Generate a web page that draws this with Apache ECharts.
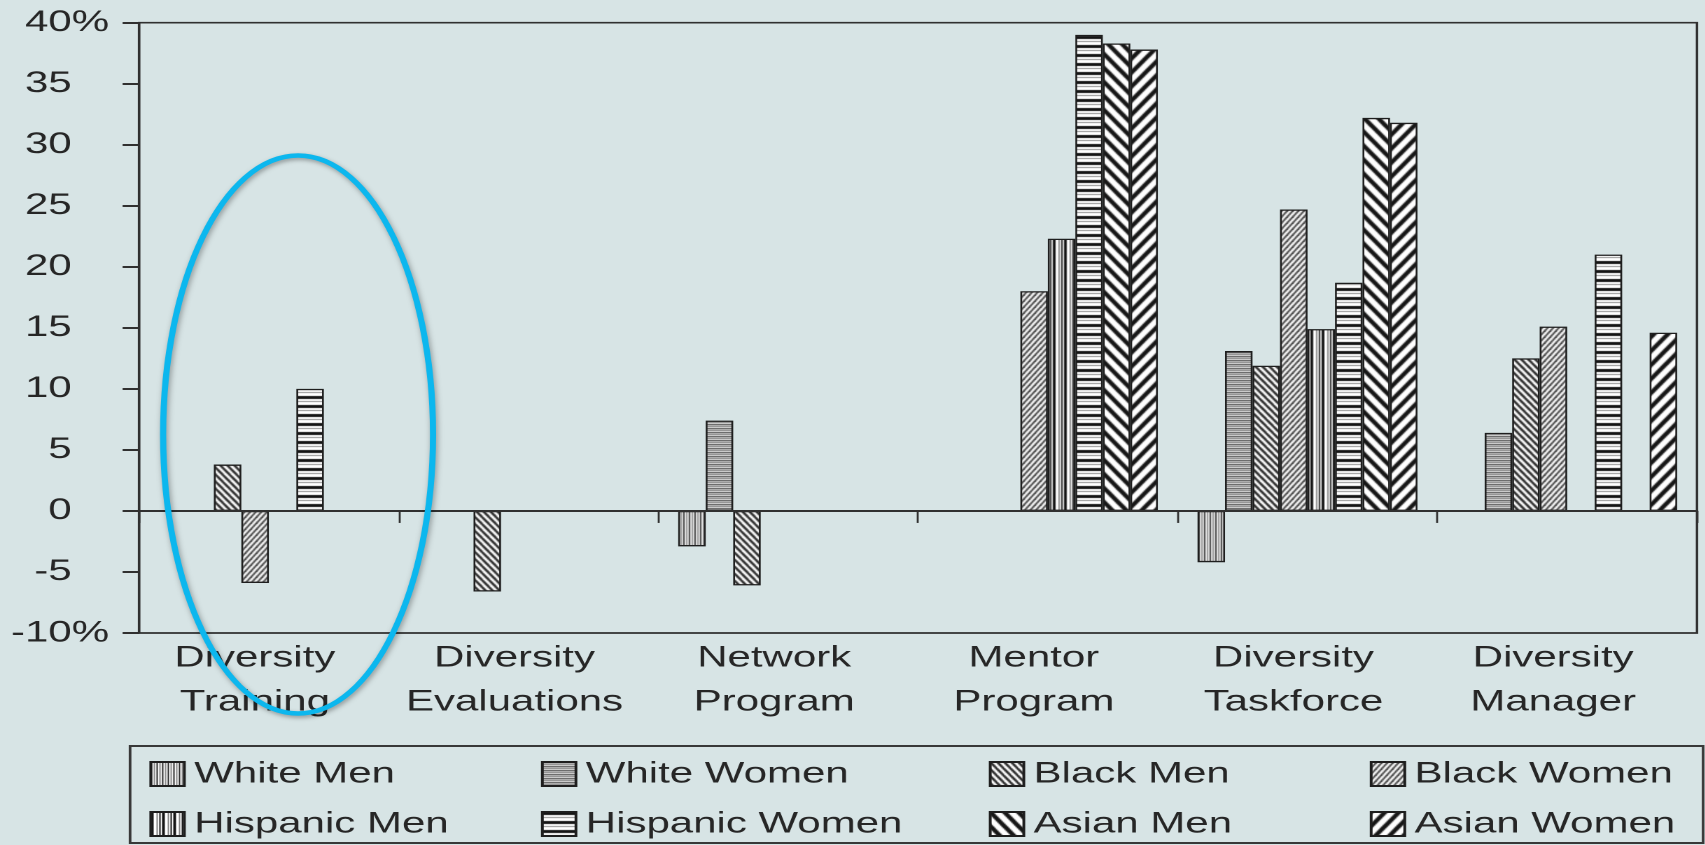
<!DOCTYPE html>
<html>
<head>
<meta charset="utf-8">
<title>Diversity programs</title>
<script src="https://cdn.jsdelivr.net/npm/echarts@6/dist/echarts.min.js"></script>
<style>
  html, body { margin: 0; padding: 0; background: #d7e4e5; overflow: hidden; }
  #stage { width: 1705px; height: 845px; position: relative; overflow: hidden; }
  /* the chart is laid out narrow and widened 1.4x, which gives the broad lettering */
  #chart { width: 1218px; height: 845px; transform: scaleX(1.4); transform-origin: 0 0; }
</style>
</head>
<body>
<div id="stage"><div id="chart"></div></div>
<script>
// ---- data ----
const categories = [
  'Diversity\nTraining', 'Diversity\nEvaluations', 'Network\nProgram',
  'Mentor\nProgram', 'Diversity\nTaskforce', 'Diversity\nManager'
];
const whiteMen       = [null, null, -2.9, null, -4.2, null];
const whiteWomen     = [null, null, 7.4, null, 13.1, 6.4];
const blackMen       = [3.8, -6.6, -6.1, null, 11.9, 12.5];
const blackWomen     = [-5.9, null, null, 18.0, 24.7, 15.1];
const hispanicMen    = [null, null, null, 22.3, 14.9, null];
const hispanicWomen  = [10.0, null, null, 39.0, 18.7, 21.0];
const asianMen       = [null, null, null, 38.3, 32.2, null];
const asianWomen     = [null, null, null, 37.8, 31.8, 14.6];
const yTickLabels = ['-10%', '-5', '0', '5', '10', '15', '20', '25', '30', '35', '40%'];

// ---- hatch fills ----
function tile(w, h, paint) {
  const c = document.createElement('canvas');
  c.width = w; c.height = h;
  const g = c.getContext('2d');
  g.fillStyle = '#ffffff';
  g.fillRect(0, 0, w, h);
  paint(g, w, h);
  return { image: c, repeat: 'repeat' };
}
function columns(spec) {
  const w = spec.reduce((s, p) => s + p[1], 0);
  return tile(w, 2, g => {
    let x = 0;
    spec.forEach(([col, n]) => { g.fillStyle = col; g.fillRect(x, 0, n, 2); x += n; });
  });
}
function bands(spec) {
  const h = spec.reduce((s, p) => s + p[1], 0);
  return tile(2, h, g => {
    let y = 0;
    spec.forEach(([col, n]) => { g.fillStyle = col; g.fillRect(0, y, 2, n); y += n; });
  });
}
function diagonal(w, h, lw, color, falling) {
  return tile(w, h, g => {
    g.strokeStyle = color;
    g.lineWidth = lw;
    for (let k = -1; k <= 1; k++) {
      g.beginPath();
      if (falling) { g.moveTo(k * w - w, -h); g.lineTo(k * w + 2 * w, 2 * h); }
      else { g.moveTo(k * w - w, 2 * h); g.lineTo(k * w + 2 * w, -h); }
      g.stroke();
    }
  });
}

const fills = {
  whiteMen: columns([['#2a2a2a', 1], ['#ffffff', 1], ['#8a8a8a', 1], ['#f4f4f4', 1]]),
  whiteWomen: bands([['#4a4a4a', 1], ['#c4c4c4', 1], ['#808080', 1], ['#ececec', 1]]),
  blackMen: diagonal(5, 7, 1.9, '#262626', true),
  blackWomen: diagonal(4, 6, 1.4, '#333333', false),
  hispanicMen: columns([['#151515', 2], ['#ffffff', 2], ['#808080', 1], ['#ffffff', 1], ['#151515', 1], ['#ffffff', 1]]),
  hispanicWomen: bands([['#151515', 3], ['#ffffff', 2], ['#8c8c8c', 1], ['#ffffff', 3]]),
  asianMen: diagonal(10, 14, 3.6, '#161616', true),
  asianWomen: diagonal(10, 14, 3.6, '#161616', false)
};

const FONT = '"Liberation Sans", Arial, Helvetica, sans-serif';
const INK = '#262626';
const BAR_W = 19.64;

function barSeries(name, data, fill) {
  return {
    type: 'bar',
    name: name,
    data: data,
    xAxisIndex: 0,
    barWidth: BAR_W,
    barGap: '0%',
    itemStyle: { color: fill, borderColor: '#1e1e1e', borderWidth: 1.3 },
    emphasis: { disabled: true },
    z: 3
  };
}

// one legend entry per block so the two rows line up in fixed columns
const legendText = { color: INK, fontSize: 30, fontFamily: FONT, padding: [0, 0, 0, 2] };
function legendEntry(name, left, top) {
  return {
    data: [name],
    orient: 'horizontal',
    left: left,
    top: top,
    padding: 0,
    itemWidth: 24,
    itemHeight: 24,
    icon: 'rect',
    selectedMode: false,
    textStyle: legendText
  };
}
const colLeft = [106.7, 386.4, 706.3, 978.4];
const rowTop = [759, 809];

const chart = echarts.init(document.getElementById('chart'), null, {
  renderer: 'canvas', width: 1218, height: 845, devicePixelRatio: 2
});

chart.setOption({
  animation: false,
  backgroundColor: '#d7e4e5',
  grid: {
    left: 99.3, right: 5.86, top: 22.7, bottom: 212,
    containLabel: false, outerBoundsMode: 'none',
    show: true, borderColor: '#303030', borderWidth: 1.7, backgroundColor: 'transparent'
  },
  xAxis: [
    {
      type: 'category',
      data: categories,
      position: 'bottom',
      axisLine: { show: true, onZero: true, lineStyle: { color: '#303030', width: 2 } },
      axisTick: { show: true, length: 12, lineStyle: { color: '#303030', width: 1.4 } },
      axisLabel: { show: false },
      splitLine: { show: false },
      z: 6
    },
    {
      type: 'category',
      data: categories,
      position: 'bottom',
      axisLine: { show: false, onZero: false },
      axisTick: { show: false },
      splitLine: { show: false },
      axisLabel: {
        show: true, interval: 0, margin: 3,
        color: INK, fontSize: 30, fontFamily: FONT, lineHeight: 44,
        padding: [0, 20, 0, 0]
      }
    }
  ],
  yAxis: {
    type: 'value',
    min: -10, max: 40, interval: 5,
    axisLine: { show: true, lineStyle: { color: '#303030', width: 1.4 } },
    axisTick: { show: true, inside: false, length: 11.7, lineStyle: { color: '#303030', width: 2 } },
    splitLine: { show: false },
    axisLabel: {
      margin: 21.4, color: INK, fontSize: 30, fontFamily: FONT,
      showMinLabel: true, showMaxLabel: true,
      formatter: (v, i) => {
        const t = yTickLabels[i];
        return t.endsWith('%') ? t : t + '{pad|%}';
      },
      rich: { pad: { color: 'rgba(0,0,0,0)', fontSize: 30, fontFamily: FONT } }
    }
  },
  legend: [
    legendEntry('White Men', colLeft[0], rowTop[0]),
    legendEntry('White Women', colLeft[1], rowTop[0]),
    legendEntry('Black Men', colLeft[2], rowTop[0]),
    legendEntry('Black Women', colLeft[3], rowTop[0]),
    legendEntry('Hispanic Men', colLeft[0], rowTop[1]),
    legendEntry('Hispanic Women', colLeft[1], rowTop[1]),
    legendEntry('Asian Men', colLeft[2], rowTop[1]),
    legendEntry('Asian Women', colLeft[3], rowTop[1])
  ],
  graphic: [
    {
      type: 'rect', silent: true, z: 0,
      shape: { x: 92.9, y: 746, width: 1123.6, height: 97 },
      style: { fill: 'none', stroke: '#383838', lineWidth: 1.9 }
    },
    {
      type: 'ellipse', silent: true, z: 100,
      shape: { cx: 212.9, cy: 434.5, rx: 96.4, ry: 279 },
      style: {
        fill: 'none', stroke: '#0cb7ee', lineWidth: 4.4,
        shadowBlur: 4, shadowOffsetX: 1, shadowOffsetY: 2, shadowColor: 'rgba(0,0,0,0.35)'
      }
    }
  ],
  series: [
    barSeries('White Men', whiteMen, fills.whiteMen),
    barSeries('White Women', whiteWomen, fills.whiteWomen),
    barSeries('Black Men', blackMen, fills.blackMen),
    barSeries('Black Women', blackWomen, fills.blackWomen),
    barSeries('Hispanic Men', hispanicMen, fills.hispanicMen),
    barSeries('Hispanic Women', hispanicWomen, fills.hispanicWomen),
    barSeries('Asian Men', asianMen, fills.asianMen),
    barSeries('Asian Women', asianWomen, fills.asianWomen)
  ]
});
</script>
</body>
</html>
